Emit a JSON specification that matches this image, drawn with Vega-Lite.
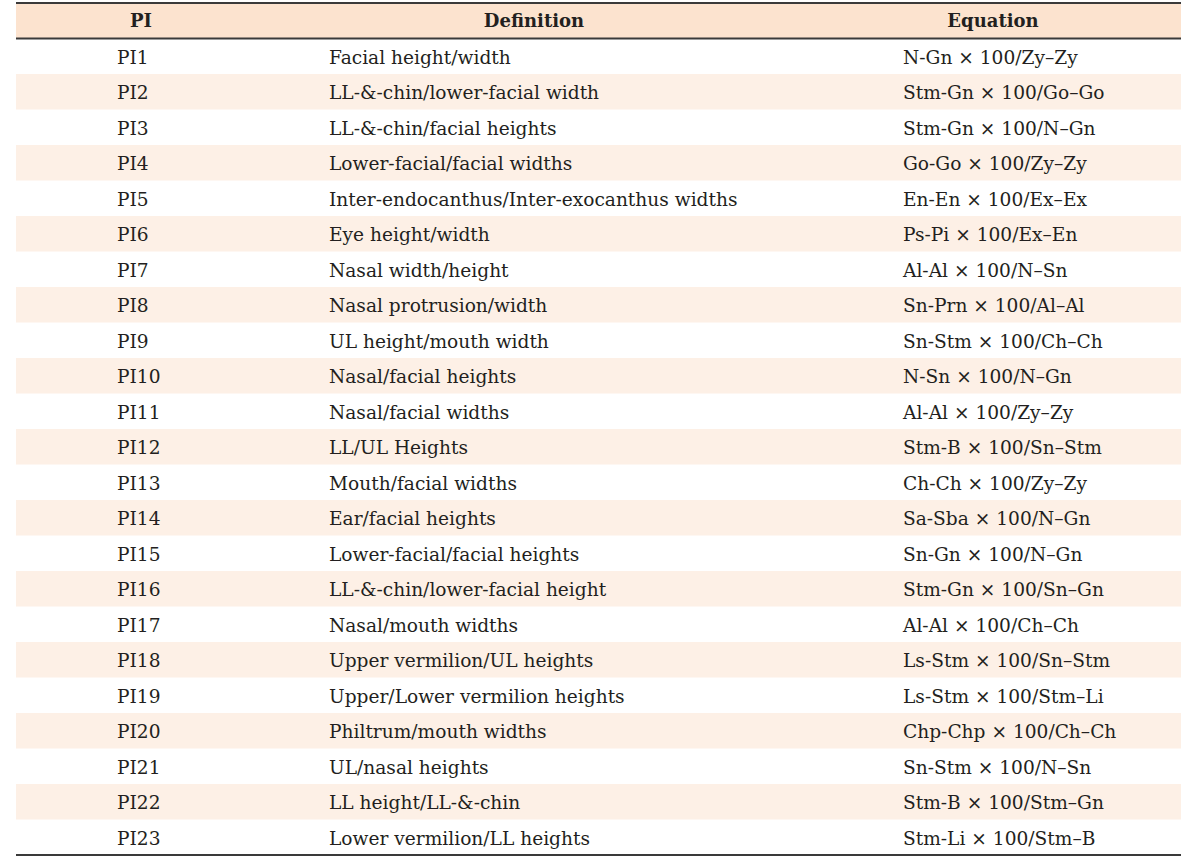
{
  "$schema": "https://vega.github.io/schema/vega-lite/v6.json",
  "width": 1200,
  "height": 852,
  "autosize": "none",
  "padding": {"left": 0, "right": 0, "top": 3, "bottom": 3},
  "background": "white",
  "config": {
    "view": {"stroke": null},
    "text": {"font": "DejaVu Serif", "fontSize": 18.6, "color": "#231f20", "baseline": "middle", "dy": 1.5}
  },
  "datasets": {
    "header": [{"PI": "PI", "Definition": "Definition", "Equation": "Equation"}],
    "rows": [
      {"PI": "PI1", "Definition": "Facial height/width", "Equation": "N-Gn × 100/Zy–Zy"},
      {"PI": "PI2", "Definition": "LL-&-chin/lower-facial width", "Equation": "Stm-Gn × 100/Go–Go"},
      {"PI": "PI3", "Definition": "LL-&-chin/facial heights", "Equation": "Stm-Gn × 100/N–Gn"},
      {"PI": "PI4", "Definition": "Lower-facial/facial widths", "Equation": "Go-Go × 100/Zy–Zy"},
      {"PI": "PI5", "Definition": "Inter-endocanthus/Inter-exocanthus widths", "Equation": "En-En × 100/Ex–Ex"},
      {"PI": "PI6", "Definition": "Eye height/width", "Equation": "Ps-Pi × 100/Ex–En"},
      {"PI": "PI7", "Definition": "Nasal width/height", "Equation": "Al-Al × 100/N–Sn"},
      {"PI": "PI8", "Definition": "Nasal protrusion/width", "Equation": "Sn-Prn × 100/Al–Al"},
      {"PI": "PI9", "Definition": "UL height/mouth width", "Equation": "Sn-Stm × 100/Ch–Ch"},
      {"PI": "PI10", "Definition": "Nasal/facial heights", "Equation": "N-Sn × 100/N–Gn"},
      {"PI": "PI11", "Definition": "Nasal/facial widths", "Equation": "Al-Al × 100/Zy–Zy"},
      {"PI": "PI12", "Definition": "LL/UL Heights", "Equation": "Stm-B × 100/Sn–Stm"},
      {"PI": "PI13", "Definition": "Mouth/facial widths", "Equation": "Ch-Ch × 100/Zy–Zy"},
      {"PI": "PI14", "Definition": "Ear/facial heights", "Equation": "Sa-Sba × 100/N–Gn"},
      {"PI": "PI15", "Definition": "Lower-facial/facial heights", "Equation": "Sn-Gn × 100/N–Gn"},
      {"PI": "PI16", "Definition": "LL-&-chin/lower-facial height", "Equation": "Stm-Gn × 100/Sn–Gn"},
      {"PI": "PI17", "Definition": "Nasal/mouth widths", "Equation": "Al-Al × 100/Ch–Ch"},
      {"PI": "PI18", "Definition": "Upper vermilion/UL heights", "Equation": "Ls-Stm × 100/Sn–Stm"},
      {"PI": "PI19", "Definition": "Upper/Lower vermilion heights", "Equation": "Ls-Stm × 100/Stm–Li"},
      {"PI": "PI20", "Definition": "Philtrum/mouth widths", "Equation": "Chp-Chp × 100/Ch–Ch"},
      {"PI": "PI21", "Definition": "UL/nasal heights", "Equation": "Sn-Stm × 100/N–Sn"},
      {"PI": "PI22", "Definition": "LL height/LL-&-chin", "Equation": "Stm-B × 100/Stm–Gn"},
      {"PI": "PI23", "Definition": "Lower vermilion/LL heights", "Equation": "Stm-Li × 100/Stm–B"}
    ]
  },
  "encoding": {
    "y": {
      "field": "PI", "type": "nominal", "axis": null,
      "scale": {
        "domain": ["PI", "PI1", "PI2", "PI3", "PI4", "PI5", "PI6", "PI7", "PI8", "PI9", "PI10", "PI11", "PI12", "PI13", "PI14", "PI15", "PI16", "PI17", "PI18", "PI19", "PI20", "PI21", "PI22", "PI23"],
        "paddingInner": 0, "paddingOuter": 0
      }
    }
  },
  "layer": [
    {
      "data": {"name": "header"},
      "mark": {"type": "rect", "color": "#fce3cf"},
      "encoding": {
        "x": {"datum": 16, "type": "quantitative", "axis": null, "scale": {"domain": [0, 1200], "nice": false, "zero": false}},
        "x2": {"datum": 1181}
      }
    },
    {
      "data": {"name": "rows"},
      "transform": [{"window": [{"op": "row_number", "as": "rn"}]}, {"filter": "datum.rn % 2 == 0"}],
      "mark": {"type": "rect", "color": "#fdf0e6"},
      "encoding": {
        "x": {"datum": 16, "type": "quantitative"},
        "x2": {"datum": 1181}
      }
    },
    {
      "data": {"name": "header"},
      "mark": {"type": "rule", "color": "#3a3a3a", "strokeWidth": 2},
      "encoding": {
        "y": {"field": "PI", "type": "nominal", "bandPosition": 0},
        "x": {"datum": 16, "type": "quantitative"},
        "x2": {"datum": 1181}
      }
    },
    {
      "data": {"name": "header"},
      "mark": {"type": "rule", "color": "#3a3a3a", "strokeWidth": 2},
      "encoding": {
        "y": {"field": "PI", "type": "nominal", "bandPosition": 1},
        "x": {"datum": 16, "type": "quantitative"},
        "x2": {"datum": 1181}
      }
    },
    {
      "data": {"name": "rows"},
      "transform": [{"filter": "datum.PI == 'PI23'"}],
      "mark": {"type": "rule", "color": "#3a3a3a", "strokeWidth": 2},
      "encoding": {
        "y": {"field": "PI", "type": "nominal", "bandPosition": 1},
        "x": {"datum": 16, "type": "quantitative"},
        "x2": {"datum": 1181}
      }
    },
    {
      "data": {"name": "header"},
      "mark": {"type": "text", "align": "center", "fontWeight": "bold", "fontSize": 18},
      "encoding": {"x": {"datum": 141, "type": "quantitative"}, "text": {"field": "PI"}}
    },
    {
      "data": {"name": "header"},
      "mark": {"type": "text", "align": "center", "fontWeight": "bold", "fontSize": 18},
      "encoding": {"x": {"datum": 534, "type": "quantitative"}, "text": {"field": "Definition"}}
    },
    {
      "data": {"name": "header"},
      "mark": {"type": "text", "align": "center", "fontWeight": "bold", "fontSize": 18},
      "encoding": {"x": {"datum": 993, "type": "quantitative"}, "text": {"field": "Equation"}}
    },
    {
      "data": {"name": "rows"},
      "mark": {"type": "text", "align": "left"},
      "encoding": {"x": {"datum": 117, "type": "quantitative"}, "text": {"field": "PI"}}
    },
    {
      "data": {"name": "rows"},
      "mark": {"type": "text", "align": "left"},
      "encoding": {"x": {"datum": 329, "type": "quantitative"}, "text": {"field": "Definition"}}
    },
    {
      "data": {"name": "rows"},
      "mark": {"type": "text", "align": "left"},
      "encoding": {"x": {"datum": 903, "type": "quantitative"}, "text": {"field": "Equation"}}
    }
  ]
}
